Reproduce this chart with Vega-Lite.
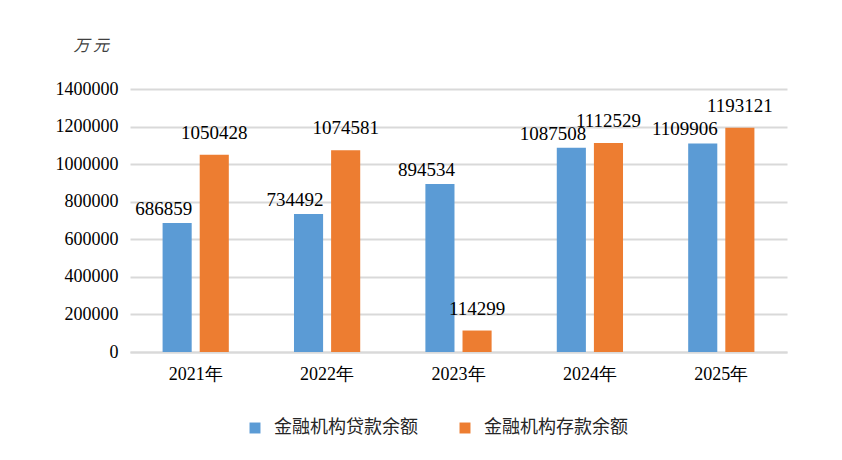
{
  "$schema": "https://vega.github.io/schema/vega-lite/v6.json",
  "autosize": {"type": "none"},
  "width": 657,
  "height": 263,
  "padding": {"left": 130, "top": 89, "right": 55, "bottom": 108},
  "background": "white",
  "config": {
    "view": {"stroke": null},
    "font": "Liberation Serif",
    "axis": {"labelFont": "Liberation Serif", "labelFontSize": 18, "labelColor": "#000000"}
  },
  "data": {
    "values": [
      {"year": "2021年", "type": "金融机构贷款余额", "value": 686859},
      {"year": "2021年", "type": "金融机构存款余额", "value": 1050428},
      {"year": "2022年", "type": "金融机构贷款余额", "value": 734492},
      {"year": "2022年", "type": "金融机构存款余额", "value": 1074581},
      {"year": "2023年", "type": "金融机构贷款余额", "value": 894534},
      {"year": "2023年", "type": "金融机构存款余额", "value": 114299},
      {"year": "2024年", "type": "金融机构贷款余额", "value": 1087508},
      {"year": "2024年", "type": "金融机构存款余额", "value": 1112529},
      {"year": "2025年", "type": "金融机构贷款余额", "value": 1109906},
      {"year": "2025年", "type": "金融机构存款余额", "value": 1193121}
    ]
  },
  "encoding": {
    "x": {
      "field": "year", "type": "nominal", "sort": null, "title": null,
      "scale": {"paddingInner": 0.496, "paddingOuter": 0.248},
      "axis": {"labelAngle": 0, "ticks": false, "domainColor": "#d9d9d9", "domainWidth": 2, "labelPadding": 13}
    },
    "xOffset": {
      "field": "type", "type": "nominal",
      "sort": ["金融机构贷款余额", "金融机构存款余额"],
      "scale": {"paddingInner": 0.216}
    },
    "y": {
      "field": "value", "type": "quantitative",
      "scale": {"domain": [0, 1400000]},
      "title": "万 元",
      "axis": {
        "values": [0, 200000, 400000, 600000, 800000, 1000000, 1200000, 1400000],
        "format": "d", "domain": false, "ticks": false, "labelPadding": 12,
        "gridColor": "#d9d9d9", "gridWidth": 2,
        "titleAngle": 0, "titleX": -57, "titleY": -44, "titleAlign": "left", "titleBaseline": "middle",
        "titleFont": "Noto Sans CJK SC", "titleFontSize": 16, "titleFontWeight": "normal", "titleFontStyle": "italic", "titleColor": "#404040"
      }
    }
  },
  "layer": [
    {
      "mark": {"type": "bar"},
      "encoding": {
        "color": {
          "field": "type", "type": "nominal",
          "sort": ["金融机构贷款余额", "金融机构存款余额"],
          "scale": {"domain": ["金融机构贷款余额", "金融机构存款余额"], "range": ["#5b9bd5", "#ed7d31"]},
          "legend": {
            "title": null, "orient": "none", "direction": "horizontal",
            "legendX": 116, "legendY": 330,
            "symbolType": "square", "symbolSize": 120, "symbolStrokeWidth": 0,
            "labelFont": "Noto Sans CJK SC", "labelFontSize": 18, "labelColor": "#262626",
            "columnPadding": 38, "labelOffset": 10
          }
        }
      }
    },
    {
      "transform": [{"filter": "datum.type === '金融机构贷款余额'"}],
      "mark": {"type": "text", "baseline": "bottom", "align": "right", "dx": 15, "dy": -4, "fontSize": 19, "font": "Liberation Serif", "color": "#000000"},
      "encoding": {"text": {"field": "value", "type": "quantitative", "format": "d"}}
    },
    {
      "transform": [{"filter": "datum.type === '金融机构存款余额'"}],
      "mark": {"type": "text", "baseline": "bottom", "align": "center", "dy": -12, "fontSize": 19, "font": "Liberation Serif", "color": "#000000"},
      "encoding": {"text": {"field": "value", "type": "quantitative", "format": "d"}}
    }
  ]
}
